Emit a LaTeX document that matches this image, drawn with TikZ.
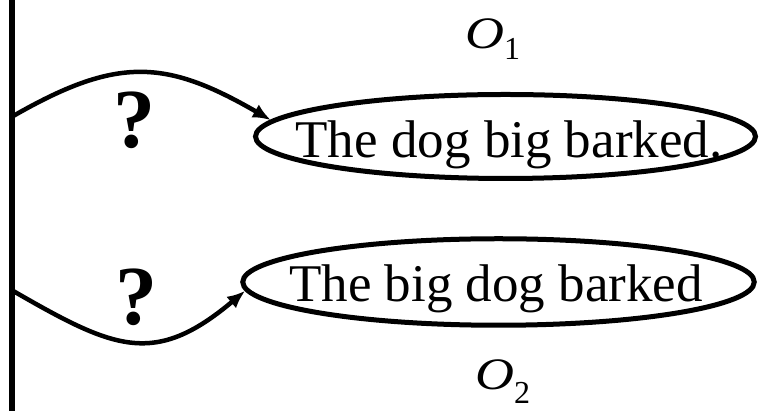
\documentclass[tikz,border=0pt]{standalone}
\usepackage{fontspec}
\setmainfont{Liberation Serif}
\usetikzlibrary{shapes.geometric, arrows.meta}

\tikzset{
  oval/.style={ellipse, draw, line width=5pt, inner sep=0pt},
  sentence/.style={anchor=base, font=\fontsize{53}{60}\selectfont},
  query/.style={anchor=base, font=\fontsize{84}{90}\selectfont\bfseries},
  outcome/.style={anchor=base west, inner sep=0pt, font=\fontsize{45}{48}\selectfont},
  guess/.style={line width=4.5pt, -{Latex[length=18pt,width=15pt]}},
}
\newcommand{\outsub}[2]{\raisebox{#1}{\fontsize{32}{34}\selectfont #2}}

\begin{document}
\begin{tikzpicture}[x=1pt,y=1pt]
\useasboundingbox (0,0) rectangle (760,411);

% vertical bar on the left
\coordinate (top) at (11.5,411);
\coordinate (bot) at (11.5,0);
\draw[line width=6pt] (top) -- (bot);

\coordinate (s1) at (11.5,294);
\coordinate (s2) at (11.5,121);

% the two sentences
\node[oval, minimum width=500pt, minimum height=84pt] (e1) at (505.5,274.5) {};
\node[oval, minimum width=511.5pt, minimum height=86.5pt] (e2) at (498.5,129) {};
\node[sentence] (t1) at (509,253) {The dog big barked.};
\node[sentence] (t2) at (496,109) {The big dog barked};

\node[query] (q1) at (134,263) {?};
\node[query] (q2) at (136,86) {?};

\node[outcome] (o1) at (465,362) {\scalebox{1.2}[1]{\itshape O}\outsub{-11pt}{1}};
\node[outcome] (o2) at (475,21) {\scalebox{1.2}[1]{\itshape O}\outsub{-14pt}{2}};

\draw[guess] (s1) to[out=30, in=150, looseness=1.2] (e1.176);
\draw[guess] (s2) to[out=-30, in=-140, looseness=1.3] (e2.182);

\end{tikzpicture}
\end{document}
